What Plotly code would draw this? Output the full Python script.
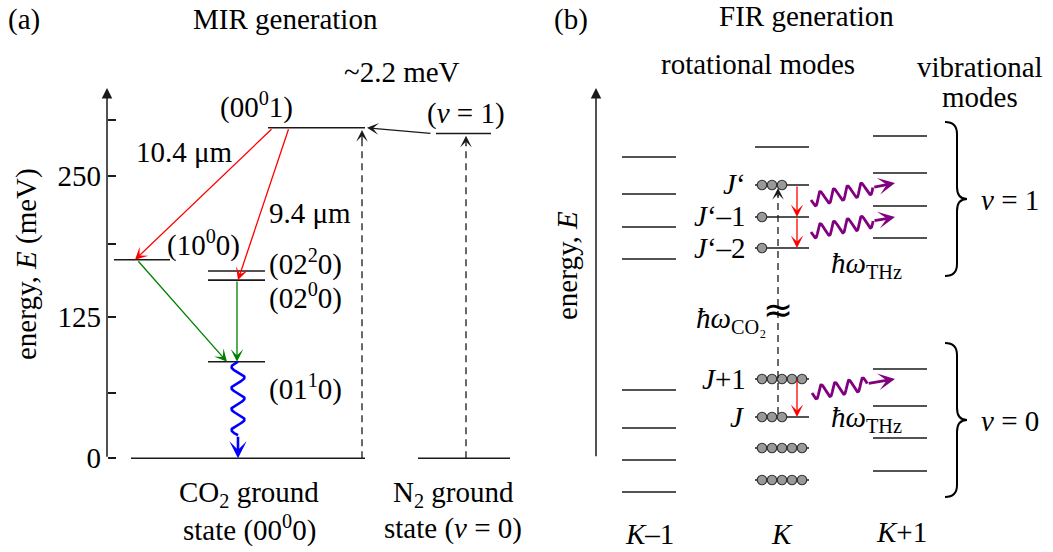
import numpy as np
import plotly.graph_objects as go

W, H = 1053, 552
FONT = "Liberation Serif, Times New Roman, Times, serif"
FS = 29
INK = "#1a1a1a"

# ---------------- panel (a): CO2 / N2 levels, energies in meV ----------------
co2_labels = ["(00<sup>0</sup>1)", "(10<sup>0</sup>0)", "(02<sup>2</sup>0)",
              "(02<sup>0</sup>0)", "(01<sup>1</sup>0)", "(00<sup>0</sup>0)"]
co2_energy = [293.0, 176.0, 166.0, 158.0, 85.6, 0.0]
n2_labels = ["(<i>v</i> = 1)", "(<i>v</i> = 0)"]
n2_energy = [288.0, 0.0]
axis_ticks = [0, 58, 125, 190, 250, 300]
axis_tick_text = ["0", "", "125", "", "250", ""]
laser_lines = ["10.4 μm", "9.4 μm"]
transfer_gap = "~2.2 meV"

# ---------------- panel (b): rotational ladders, relative energy ----------------
levels_k_minus = [0.0, 3.2, 6.4, 10.2, 23.3, 26.5, 29.8, 33.5]
levels_k = [1.2, 4.4, 7.5, 11.3, 24.4, 27.5, 30.7, 34.5]
levels_k_plus = [2.1, 5.4, 8.6, 12.3, 25.4, 28.6, 31.9, 35.6]
population_k = [5, 5, 3, 5, 1, 1, 3, 0]
column_labels = ["<i>K</i>–1", "<i>K</i>", "<i>K</i>+1"]

# vertical scales of the two panels (pixel offset of zero, pixels per unit)
A_ZERO, A_SCALE = 458.3, 1.128
B_ZERO, B_SCALE = 492.0, 10.0
ya_range = [-(H - A_ZERO) / A_SCALE, A_ZERO / A_SCALE]
yb_range = [-(H - B_ZERO) / B_SCALE, B_ZERO / B_SCALE]


def a_px(e):
    return A_ZERO - np.asarray(e) * A_SCALE


def a_val(py):
    return (A_ZERO - np.asarray(py)) / A_SCALE


def b_px(e):
    return B_ZERO - np.asarray(e) * B_SCALE


def b_val(py):
    return (B_ZERO - np.asarray(py)) / B_SCALE


fig = go.Figure()
annotations = []
shapes = []


def segments(xspans, ys):
    xs, yv = [], []
    for (x0, x1), y in zip(xspans, ys):
        xs += [x0, x1, None]
        yv += [y, y, None]
    return xs, yv


def add_lines(xs, ys, yaxis="y", color=INK, width=1.6, dash="solid"):
    fig.add_trace(go.Scatter(x=xs, y=ys, mode="lines", yaxis=yaxis,
                             line=dict(color=color, width=width, dash=dash),
                             hoverinfo="skip", showlegend=False))


def arrow(x, y, ax, ay, yref, color, width=1.3, head=3, size=1.6):
    annotations.append(dict(x=x, y=y, ax=ax, ay=ay, xref="x", yref=yref,
                            axref="x", ayref=yref, text="", showarrow=True,
                            arrowhead=head, arrowsize=size, arrowwidth=width,
                            arrowcolor=color, standoff=0, startstandoff=0))


def label(x, py, text, size=FS, xanchor="center", angle=0, family=FONT):
    annotations.append(dict(x=x, y=1 - py / H, xref="x", yref="paper", text=text,
                            showarrow=False, xanchor=xanchor, yanchor="middle",
                            textangle=angle,
                            font=dict(family=family, size=size, color="black")))


def wave_px(x0, y0, x1, y1, amp, period, lead):
    """Sine wiggle from (x0,y0) towards (x1,y1) in pixel space, stopping
    `lead` pixels short of the end; returns the wiggle and its end point."""
    dx, dy = x1 - x0, y1 - y0
    L = np.hypot(dx, dy)
    ux, uy = dx / L, dy / L
    nx, ny = -uy, ux
    n_half = int((L - lead) / (period / 2))
    Lw = n_half * period / 2
    t = np.linspace(0, Lw, 240)
    off = amp * np.sin(2 * np.pi * t / period)
    return x0 + ux * t + nx * off, y0 + uy * t + ny * off, (x0 + ux * Lw, y0 + uy * Lw)


# ======================= panel (a) =======================
co2_spans = [(268, 365), (114, 170), (208, 265), (208, 265), (208, 265), (131, 365)]
n2_spans = [(436, 491), (418, 510)]
xs, ys = segments(co2_spans, co2_energy)
add_lines(xs, ys)
xs, ys = segments(n2_spans, n2_energy)
add_lines(xs, ys)

# energy axis with arrow
arrow(107, float(a_val(88)), 107, 0, "y", INK, width=1.5, head=2, size=1.4)

# pumping (dashed) from the ground states
add_lines([362, 362], [0, co2_energy[0] - 10], dash="7px,5px", width=1.3)
arrow(362, co2_energy[0] - 2, 362, co2_energy[0] - 12, "y", INK, width=1.3, head=3, size=1.5)
add_lines([466, 466], [0, n2_energy[0] - 10], dash="7px,5px", width=1.3)
arrow(466, n2_energy[0] - 2, 466, n2_energy[0] - 12, "y", INK, width=1.3, head=3, size=1.5)

# resonant transfer N2 -> CO2
arrow(367, co2_energy[0], 432, n2_energy[0], "y", INK, width=1.3, head=3, size=1.5)

# laser transitions
arrow(135, co2_energy[1], 273, co2_energy[0], "y", "#ff0000", width=1.3)
arrow(238, co2_energy[3], 289, co2_energy[0], "y", "#ff0000", width=1.3)
# relaxation
arrow(227, co2_energy[4], 137, co2_energy[1], "y", "#008000", width=1.3)
arrow(237, co2_energy[4], 237, co2_energy[3], "y", "#008000", width=1.3)

# radiative decay of (01^1 0): wavy blue arrow
wx, wy, (ex, ey) = wave_px(238, float(a_px(co2_energy[4])), 238, float(a_px(0)), 6.5, 21, 18)
add_lines(list(wx), list(a_val(wy)), color="#0000ff", width=2.6)
arrow(238, 0, 238, float(a_val(ey)), "y", "#0000ff", width=2.6, head=3, size=1.1)

# ======================= panel (b) =======================
arrow(596, float(b_val(88)), 596, float(b_val(457.7)), "y2", INK, width=1.5, head=2, size=1.4)

for spans, lev in [((622, 676), levels_k_minus), ((755, 809), levels_k), ((873, 927), levels_k_plus)]:
    xs, ys = segments([spans] * len(lev), lev)
    add_lines(xs, ys, yaxis="y2")

# populated rotational levels of the K ladder
cx, cy = [], []
for lev, n in zip(levels_k, population_k):
    for i in range(n):
        cx.append(762 + 10 * i)
        cy.append(lev)
fig.add_trace(go.Scatter(x=cx, y=cy, mode="markers", yaxis="y2",
                         marker=dict(size=9.5, color="#999999", line=dict(color="#333333", width=1.2)),
                         hoverinfo="skip", showlegend=False))

# CO2 laser pumping J -> J'
add_lines([778, 778], [levels_k[2] + 0.3, levels_k[6] - 1.0], yaxis="y2", dash="7px,5px", width=1.3)
arrow(778, levels_k[6] - 0.3, 778, levels_k[6] - 1.3, "y2", INK, width=1.3, head=3, size=1.5)

# rotational cascade
for hi, lo in [(6, 5), (5, 4), (3, 2)]:
    arrow(797, levels_k[lo], 797, levels_k[hi], "y2", "#ff0000", width=1.3)

# emitted THz photons
for (sx, sy, tx, ty) in [(811, 200, 895, 183), (811, 232, 895, 217), (812, 393, 895, 379)]:
    wx, wy, (ex, ey) = wave_px(sx, sy, tx, ty, 6.5, 14, 22)
    add_lines(list(wx), list(b_val(wy)), yaxis="y2", color="#800080", width=2.8)
    arrow(tx, float(b_val(ty)), ex, float(b_val(ey)), "y2", "#800080", width=2.8, head=3, size=1.0)


# braces grouping the vibrational states
def brace(top, bot, xl=945, xm=957, xt=967):
    mid = (top + bot) / 2
    r = 12
    pts = [("M", xl, top), ("Q", xm, top, xm, top + r), ("L", xm, mid - r),
           ("Q", xm, mid, xt, mid), ("Q", xm, mid, xm, mid + r), ("L", xm, bot - r),
           ("Q", xm, bot, xl, bot)]
    path = ""
    for p in pts:
        cmd, coords = p[0], p[1:]
        conv = []
        for j in range(0, len(coords), 2):
            conv.append(f"{coords[j]},{float(b_val(coords[j + 1])):.3f}")
        path += cmd + " " + " ".join(conv) + " "
    shapes.append(dict(type="path", path=path.strip(), xref="x", yref="y2",
                       line=dict(color="black", width=2)))


brace(122, 276)
brace(343, 497)

# ======================= text =======================
label(24, 19, "(a)")
label(285, 19, "MIR generation")
label(571, 19, "(b)")
label(806, 16, "FIR generation")
label(758, 64, "rotational modes")
label(980, 67, "vibrational")
label(980, 97, "modes")

label(402, 72, transfer_gap)
label(256, 106, co2_labels[0])
label(184, 152, laser_lines[0])
label(310, 213, laser_lines[1])
label(203, 244, co2_labels[1])
label(305, 262, co2_labels[2])
label(305, 297, co2_labels[3])
label(305, 387, co2_labels[4])
label(466, 113, n2_labels[0])
label(249, 494, "CO<sub>2</sub> ground")
label(249, 528, "state " + co2_labels[5])
label(453, 494, "N<sub>2</sub> ground")
label(453, 528, "state " + n2_labels[1])
label(26, 264, "energy, <i>E</i> (meV)", angle=-90)

label(567, 266, "energy, <i>E</i>", angle=-90)
label(748, 184, "<i>J</i>‘", xanchor="right")
label(748, 216, "<i>J</i>‘–1", xanchor="right")
label(748, 248, "<i>J</i>‘–2", xanchor="right")
label(748, 379, "<i>J</i>+1", xanchor="right")
label(746, 417, "<i>J</i>", xanchor="right")
label(731, 320, "<i>ħω</i><sub>CO₂</sub>")
label(778, 309, "≈", size=36, family="DejaVu Sans")
label(866, 265, "<i>ħω</i><sub>THz</sub>")
label(866, 419, "<i>ħω</i><sub>THz</sub>")
label(1010, 200, "<i>v</i> = 1")
label(1010, 421, "<i>v</i> = 0")
label(649, 534, column_labels[0])
label(782, 534, column_labels[1])
label(901, 532, column_labels[2])

fig.update_layout(
    width=W, height=H, autosize=False,
    margin=dict(l=0, r=0, t=0, b=0, pad=0),
    paper_bgcolor="white", plot_bgcolor="white",
    showlegend=False,
    xaxis=dict(range=[0, W], domain=[0, 1], visible=False, fixedrange=True),
    yaxis=dict(range=ya_range, domain=[0, 1], showgrid=False, zeroline=False,
               showline=False, ticks="inside", ticklen=8, tickwidth=1.5,
               tickcolor=INK, tickvals=axis_ticks, ticktext=axis_tick_text,
               tickfont=dict(family=FONT, size=FS, color="black"),
               anchor="free", position=107 / W, ticklabelstandoff=6,
               fixedrange=True),
    yaxis2=dict(range=yb_range, overlaying="y", anchor="x", visible=False,
                fixedrange=True),
    annotations=annotations,
    shapes=shapes,
)

fig.write_html("out.html")
